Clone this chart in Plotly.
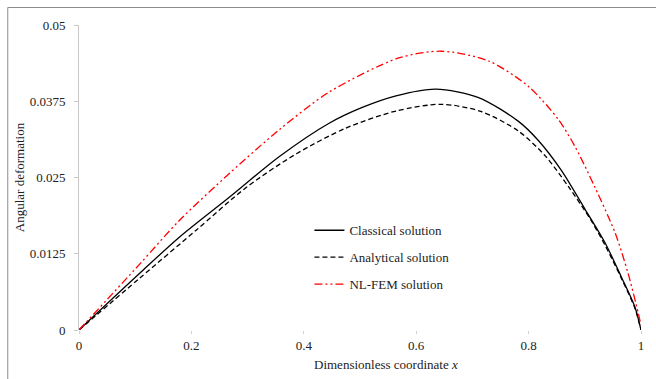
import plotly.graph_objects as go

# Classical solution (solid black)
classical_x = [0, 0.108, 0.179, 0.268, 0.356, 0.445, 0.504, 0.564, 0.635, 0.711, 0.782, 0.817, 0.858, 0.901, 0.936, 0.965, 0.989, 1.0]
classical_y = [0, 0.0093, 0.01525, 0.0218, 0.0284, 0.0339, 0.0365, 0.0384, 0.0395, 0.0381, 0.0342, 0.0311, 0.0262, 0.0197, 0.0143, 0.0087, 0.0038, 0.0]

# Analytical solution (dashed black)
analytical_x = [0, 0.108, 0.209, 0.298, 0.387, 0.475, 0.564, 0.645, 0.716, 0.782, 0.830, 0.871, 0.911, 0.936, 0.965, 0.989, 1.0]
analytical_y = [0, 0.0085, 0.0164, 0.0234, 0.0289, 0.0331, 0.0359, 0.0370, 0.0358, 0.0326, 0.0285, 0.0235, 0.0180, 0.0139, 0.0085, 0.0036, 0.0]

# NL-FEM solution (red dash-dot-dot)
nlfem_x = [0, 0.108, 0.179, 0.268, 0.356, 0.445, 0.569, 0.645, 0.729, 0.800, 0.853, 0.883, 0.918, 0.954, 0.977, 0.995, 1.0]
nlfem_y = [0, 0.0108, 0.0180, 0.0257, 0.0328, 0.0390, 0.0446, 0.0457, 0.0441, 0.0399, 0.0345, 0.0300, 0.0234, 0.0159, 0.0093, 0.0028, 0.0008]

x_ticks = [0, 0.2, 0.4, 0.6, 0.8, 1]
x_ticktext = ["0", "0.2", "0.4", "0.6", "0.8", "1"]
y_ticks = [0, 0.0125, 0.025, 0.0375, 0.05]
y_ticktext = ["0", "0.0125", "0.025", "0.0375", "0.05"]

FONT = "Times New Roman, Liberation Serif, serif"
TXT = "#222222"

fig = go.Figure()
fig.add_trace(go.Scatter(x=classical_x, y=classical_y, mode="lines", name="Classical solution",
                         legendgroup="a", line=dict(color="black", width=1.3, shape="spline", smoothing=0.8)))
fig.add_trace(go.Scatter(x=analytical_x, y=analytical_y, mode="lines", name="Analytical solution",
                         legendgroup="b", line=dict(color="black", width=1.3, dash="5px,3px", shape="spline", smoothing=0.8)))
fig.add_trace(go.Scatter(x=nlfem_x, y=nlfem_y, mode="lines", name="NL-FEM solution",
                         legendgroup="c", line=dict(color="#ff0000", width=1.3, dash="8px,3px,2px,3px,2px,3px", shape="spline", smoothing=0.8)))

fig.update_layout(
    width=656, height=379,
    margin=dict(l=79, r=13, t=25, b=49),
    paper_bgcolor="white", plot_bgcolor="white",
    font=dict(family=FONT, size=13, color=TXT),
    showlegend=True,
    legend=dict(x=0.41, y=0.376, xanchor="left", yanchor="top", bgcolor="rgba(0,0,0,0)",
                font=dict(family=FONT, size=13, color=TXT), tracegroupgap=7, itemwidth=30),
    xaxis=dict(range=[0, 1], tickvals=x_ticks, ticktext=x_ticktext, showgrid=False, zeroline=False,
               showline=False, ticks="outside", ticklen=3, tickcolor="#d0d0d0", tickwidth=1,
               ticklabelstandoff=0, tickfont=dict(family=FONT, size=13, color=TXT)),
    yaxis=dict(range=[0, 0.05], tickvals=y_ticks, ticktext=y_ticktext, showgrid=False, zeroline=False,
               showline=True, linecolor="#c8c8c8", linewidth=1, ticks="outside", ticklen=4,
               tickcolor="#c8c8c8", ticklabelstandoff=6,
               tickfont=dict(family=FONT, size=13, color=TXT),
               title=dict(text="Angular deformation", font=dict(family=FONT, size=13, color=TXT), standoff=2)),
    annotations=[dict(text="Dimensionless coordinate <i>x</i>", xref="paper", yref="paper",
                      x=(387 - 79) / 564, y=(330 - 365) / 305, xanchor="center", yanchor="middle",
                      showarrow=False, font=dict(family=FONT, size=13, color=TXT))],
    shapes=[dict(type="rect", xref="paper", yref="paper", x0=(7.5 - 79) / 564, x1=1.2,
                 y0=-0.5, y1=(330 - 7.5) / 305, line=dict(color="#8c8c8c", width=1), layer="below")],
)

fig.write_html("out.html")
